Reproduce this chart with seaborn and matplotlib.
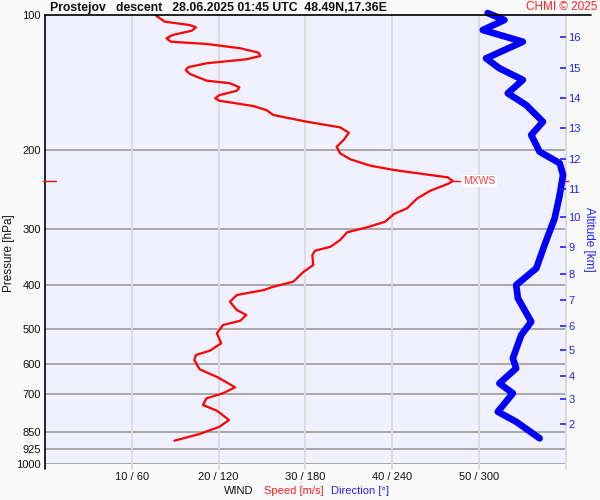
import matplotlib
matplotlib.use("Agg")
import matplotlib.pyplot as plt
import matplotlib.ticker as mticker
import matplotlib.transforms as mtransforms
from matplotlib.lines import Line2D
import seaborn as sns
import pandas as pd

sns.set_theme(style="white")
plt.rcParams["font.family"] = ["Liberation Sans", "DejaVu Sans"]

speed_p = [100.0, 103.5, 105.3, 106.5, 108.4, 110.8, 112.7, 114.7, 116.0, 118.6,
           121.3, 123.4, 125.5, 128.1, 130.7, 132.6, 135.3, 140.0, 141.9, 144.9,
           147.5, 150.8, 153.3, 155.2, 159.5, 162.8, 167.0, 172.9, 177.9, 182.9,
           189.9, 196.5, 203.3, 209.7, 216.6, 221.4, 227.2, 229.9, 234.3, 237.9,
           246.2, 256.0, 269.5, 277.5, 288.6, 297.1, 304.8, 317.1, 328.2, 335.0,
           342.4, 360.5, 373.1, 392.7, 402.9, 409.8, 420.4, 435.1, 454.0, 465.8,
           479.6, 490.3, 511.6, 538.5, 559.3, 571.7, 586.6, 615.2, 641.0, 674.8,
           695.9, 714.0, 739.0, 760.9, 798.0, 826.0, 857.5, 887.5]
speed = [12.7, 13.8, 16.7, 17.4, 16.9, 14.7, 14.0, 14.5, 18.6, 22.5,
         24.6, 24.8, 23.2, 18.6, 16.5, 16.2, 16.7, 18.6, 21.3, 22.4,
         22.1, 20.1, 19.6, 20.1, 24.0, 25.5, 26.3, 30.2, 34.0, 35.0,
         34.4, 33.6, 34.0, 35.2, 37.5, 40.2, 44.4, 46.4, 47.0, 46.4,
         44.4, 42.9, 41.7, 40.2, 39.2, 37.1, 34.8, 34.0, 32.9, 31.1,
         30.8, 30.9, 29.8, 28.6, 26.3, 25.2, 22.1, 21.3, 22.1, 23.2,
         22.5, 20.5, 19.8, 20.3, 19.0, 17.4, 17.2, 17.8, 19.9, 21.9,
         20.5, 18.6, 18.2, 19.8, 21.2, 20.1, 17.8, 14.9]

dir_p = [99.0, 102.6, 108.0, 114.7, 124.9, 131.4, 139.5, 149.4, 158.7, 172.9,
         185.0, 201.6, 213.9, 227.2, 251.7, 283.6, 325.3, 366.6, 399.4, 427.5,
         482.1, 516.1, 581.5, 612.1, 661.3, 695.9, 764.8, 805.1, 876.6]
direction = [306.0, 317.6, 302.6, 330.3, 304.9, 314.1, 330.3, 319.9, 332.6, 344.2,
             336.1, 341.9, 355.8, 358.1, 355.8, 352.3, 345.3, 339.6, 325.7, 326.9,
             336.1, 329.2, 323.4, 325.7, 314.1, 323.4, 313.0, 325.7, 341.9]

p_levels = [100, 200, 300, 400, 500, 600, 700, 850, 925, 1000]
x_ticks = [10, 20, 30, 40, 50]
x_labels = ["10 / 60", "20 / 120", "30 / 180", "40 / 240", "50 / 300"]
alt_km = [2, 3, 4, 5, 6, 7, 8, 9, 10, 11, 12, 13, 14, 15, 16]
alt_p = [813.5, 717.6, 635.9, 557.4, 492.8, 431.3, 377.5, 328.1, 282.2, 244.5,
         209.6, 178.8, 153.3, 131.4, 112.1]

df_speed = pd.DataFrame({"speed": speed, "p": speed_p})
df_dir = pd.DataFrame({"direction": direction, "p": dir_p})

fig = plt.figure(figsize=(6, 5), dpi=100, facecolor="#fafafa")
ax = fig.add_axes([0.075, 0.072, 0.868, 0.898])
ax.set_facecolor("#f0f0ff")

ax.set_yscale("log")
ax.set_ylim(1000, 100)
ax.set_xlim(0, 60)

# grid lines (vertical ones run a little below the 1000 hPa line)
for p in p_levels[1:]:
    ax.axhline(p, color="#a8a8a8", lw=1.4, zorder=1)
for x in x_ticks + [60]:
    ax.add_line(Line2D([x, x], [100, 1026], color="#dcdcdc", lw=1.4, zorder=1,
                       clip_on=False))
ax.add_line(Line2D([0, 0], [100, 1026], color="black", lw=1.2, zorder=5, clip_on=False))

# direction on its own x scale (0-360)
ax2 = ax.twiny()
ax2.set_xlim(0, 360)
sns.lineplot(data=df_dir, x="direction", y="p", orient="y", estimator=None,
             color="#0000ff", lw=4.8, ax=ax2, zorder=3, clip_on=False)
ax2.lines[-1].set_solid_joinstyle("round")
ax2.set_xticks([])
ax2.set_xlabel("")
ax2.set_ylabel("")
for s in ax2.spines.values():
    s.set_visible(False)

sns.lineplot(data=df_speed, x="speed", y="p", orient="y", estimator=None,
             color="#ff0000", lw=1.6, ax=ax, zorder=4)
ax.lines[-1].set_solid_joinstyle("round")

ax.yaxis.set_major_locator(mticker.FixedLocator(p_levels))
ax.yaxis.set_major_formatter(mticker.FixedFormatter([str(p) for p in p_levels]))
ax.yaxis.set_minor_locator(mticker.NullLocator())
ax.set_xticks(x_ticks)
ax.set_xticklabels(x_labels)
ax.tick_params(axis="both", length=0, labelsize=8, colors="#111111")
ax.tick_params(axis="y", pad=3)
ax.tick_params(axis="x", pad=6)
ax.set_xlabel("")
ax.set_ylabel("Pressure [hPa]", fontsize=8.5, color="#111111")
ax.yaxis.set_label_coords(-0.058, 0.47)

ax.spines["left"].set_visible(False)
ax.spines["bottom"].set_visible(False)
ax.spines["top"].set_visible(False)
ax.spines["right"].set_visible(False)

# altitude axis on the right
ax3 = ax.twinx()
ax3.set_yscale("log")
ax3.set_ylim(1000, 100)
ax3.yaxis.set_major_locator(mticker.FixedLocator(alt_p))
ax3.yaxis.set_major_formatter(mticker.FixedFormatter([str(a) for a in alt_km]))
ax3.yaxis.set_minor_locator(mticker.NullLocator())
ax3.tick_params(axis="y", direction="in", length=4, width=1.2, colors="#2020ff",
                labelsize=8, pad=2)
ax3.set_ylabel("Altitude [km]", color="#2020ff", fontsize=8.5, rotation=270, labelpad=10)
for s in ax3.spines.values():
    s.set_visible(False)

# max wind marker
i_max = speed.index(max(speed))
p_max = speed_p[i_max]
ax.plot([speed[i_max], speed[i_max] + 0.8], [p_max, p_max], color="#ff0000", lw=1, zorder=4)
ax.text(speed[i_max] + 1.2, p_max, "MXWS", color="#ff4040", fontsize=7.5,
        va="center", ha="left", zorder=5,
        bbox=dict(boxstyle="square,pad=0.1", fc="white", ec="none"))
trans = mtransforms.blended_transform_factory(ax.transAxes, ax.transData)
ax.add_line(Line2D([-0.004, 0.021], [p_max, p_max], color="#ff0000", lw=1,
                   transform=trans, clip_on=False, zorder=6))
ax.add_line(Line2D([0.994, 1.004], [p_max, p_max], color="#ff0000", lw=1,
                   transform=trans, clip_on=False, zorder=6))

# header line and texts
fig.add_artist(Line2D([0.075, 0.985], [0.970, 0.970], color="black", lw=1.2))
fig.text(0.083, 0.985, "Prostejov   descent   28.06.2025 01:45 UTC  48.49N,17.36E",
         fontsize=8.8, fontweight="bold", va="center", ha="left", color="#111111")
fig.text(0.995, 0.985, "CHMI \u00a9 2025", fontsize=8.5, color="#ff2020",
         va="center", ha="right")

# bottom legend
fig.text(0.422, 0.018, "WIND", fontsize=8, color="#111111", ha="right", va="center")
fig.text(0.440, 0.018, "Speed [m/s]", fontsize=8, color="#ff2020", ha="left", va="center")
fig.text(0.552, 0.018, "Direction [\u00b0]", fontsize=8, color="#2020ff", ha="left", va="center")

fig.savefig("out.png", dpi=100, facecolor=fig.get_facecolor())
plt.close(fig)
